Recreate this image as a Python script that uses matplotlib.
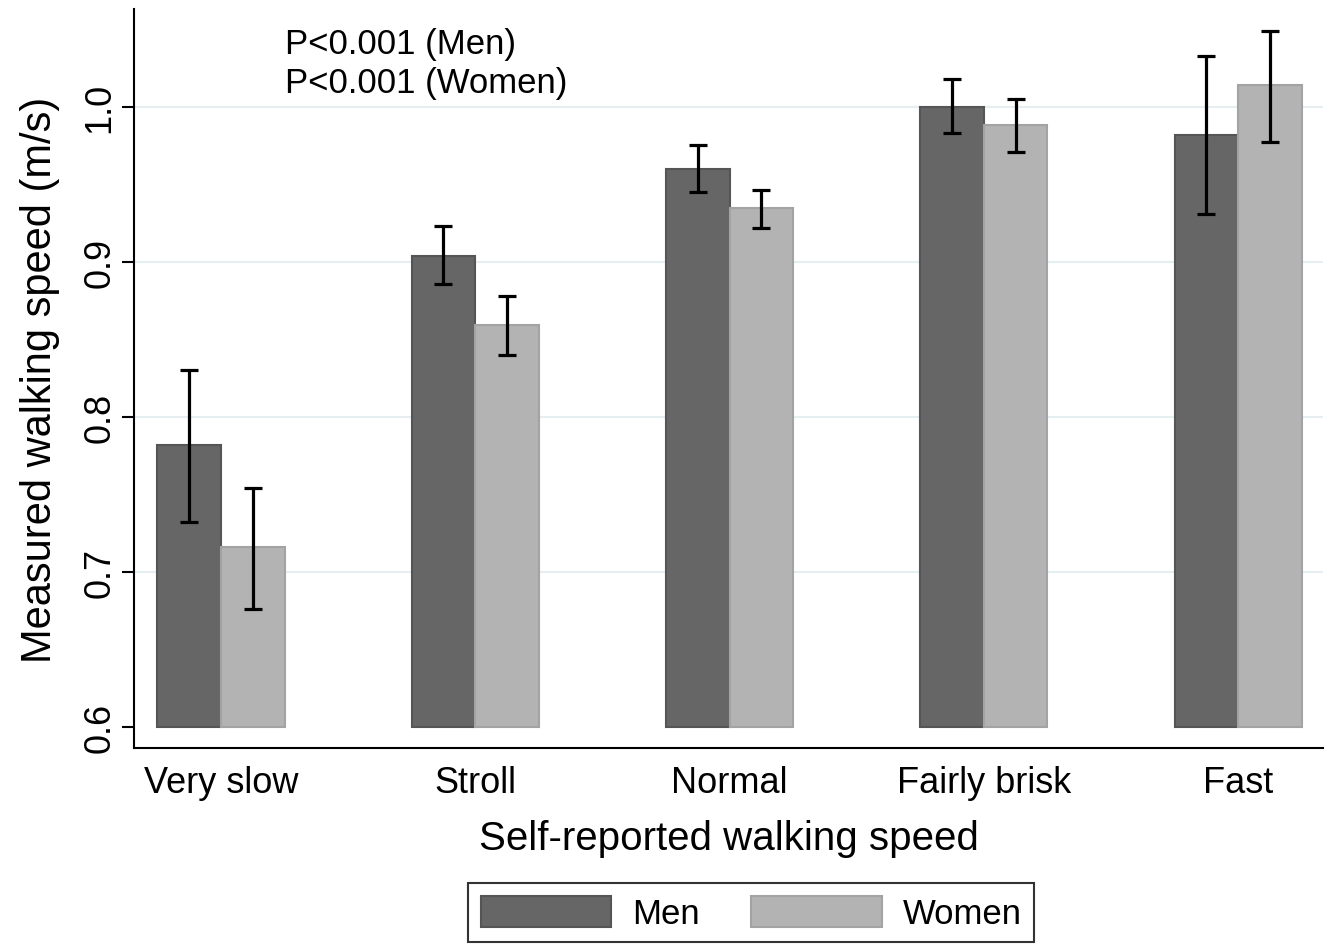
import matplotlib
matplotlib.use("Agg")
import matplotlib.pyplot as plt
import numpy as np

plt.rcParams['font.family'] = ['Liberation Sans', 'DejaVu Sans']

categories = ["Very slow", "Stroll", "Normal", "Fairly brisk", "Fast"]
men = [0.782, 0.904, 0.960, 1.000, 0.982]
men_lo = [0.732, 0.886, 0.945, 0.983, 0.931]
men_hi = [0.830, 0.923, 0.975, 1.018, 1.033]
women = [0.716, 0.859, 0.935, 0.988, 1.014]
women_lo = [0.676, 0.840, 0.922, 0.971, 0.977]
women_hi = [0.754, 0.878, 0.946, 1.005, 1.049]
yticks = [0.6, 0.7, 0.8, 0.9, 1.0]
ytick_labels = ["0.6", "0.7", "0.8", "0.9", "1.0"]
base = 0.6

fig = plt.figure(figsize=(13.33, 9.45), dpi=100)
ax = fig.add_axes([0.1005, 0.2074, 0.892, 0.782])

x = np.arange(len(categories))
w = 0.25
men_h = np.array(men) - base
women_h = np.array(women) - base
ax.bar(x - w/2, men_h, w, bottom=base, color="#666666", edgecolor="#555555",
       linewidth=1.5, label="Men", zorder=2)
ax.bar(x + w/2, women_h, w, bottom=base, color="#b3b3b3", edgecolor="#a3a3a3",
       linewidth=1.5, label="Women", zorder=2)

men_err = [np.array(men) - np.array(men_lo), np.array(men_hi) - np.array(men)]
women_err = [np.array(women) - np.array(women_lo), np.array(women_hi) - np.array(women)]
ax.errorbar(x - w/2, men, yerr=men_err, fmt='none', ecolor='black', elinewidth=2.3,
            capsize=6.5, capthick=2.3, zorder=3)
ax.errorbar(x + w/2, women, yerr=women_err, fmt='none', ecolor='black', elinewidth=2.3,
            capsize=6.5, capthick=2.3, zorder=3)

for v in yticks[1:]:
    ax.axhline(v, color="#e6eef2", linewidth=1.5, zorder=1)

ax.set_xlim(-0.342, 4.334)
ax.set_ylim(0.5865, 1.063)
ax.set_yticks(yticks)
ax.set_yticklabels(ytick_labels, rotation=90, va='center', fontsize=26)
ax.set_xticks(x)
ax.set_xticklabels(categories, fontsize=26)
ax.tick_params(axis='x', length=0, pad=12)
ax.tick_params(axis='y', length=9, width=1.5, pad=3)

for s in ['top', 'right']:
    ax.spines[s].set_visible(False)
for s in ['left', 'bottom']:
    ax.spines[s].set_linewidth(1.5)

ax.set_xlabel("Self-reported walking speed", fontsize=29, labelpad=14)
ax.set_ylabel("Measured walking speed (m/s)", fontsize=30, labelpad=16)

ax.text(0.252, 1.0406, "P<0.001 (Men)", fontsize=25, va='center', ha='left')
ax.text(0.252, 1.0155, "P<0.001 (Women)", fontsize=25, va='center', ha='left')

leg = fig.legend(loc='upper center', bbox_to_anchor=(751/1333, 1 - 867/945), ncol=2,
                 fontsize=25, frameon=True, fancybox=False, edgecolor='black',
                 handlelength=3.75, handleheight=1.0, handletextpad=0.6,
                 columnspacing=1.5, borderpad=0.35)
leg.get_frame().set_linewidth(1.5)

fig.savefig("out.png", dpi=100)
